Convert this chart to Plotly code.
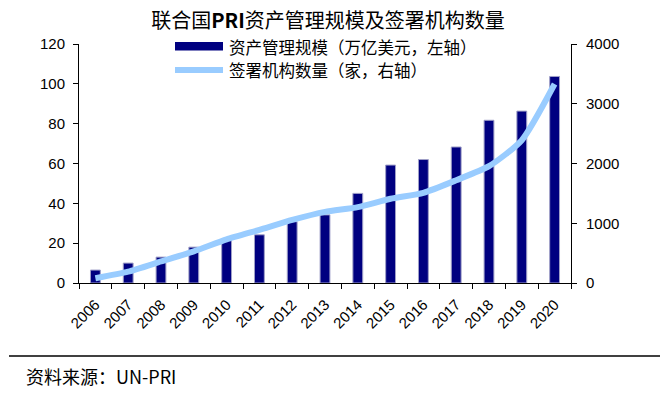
import plotly.graph_objects as go

years = ["2006", "2007", "2008", "2009", "2010", "2011", "2012", "2013",
         "2014", "2015", "2016", "2017", "2018", "2019", "2020"]
aum = [6.5, 10, 13, 18, 21.3, 24.2, 30.8, 34.2, 45, 59.2, 62, 68.3, 81.7, 86.3, 103.7]
signatories = [80, 190, 360, 530, 730, 890, 1055, 1190, 1270, 1410, 1510, 1720, 1955, 2390, 3330]
left_ticks = [0, 20, 40, 60, 80, 100, 120]
right_ticks = [0, 1000, 2000, 3000, 4000]
title_text = "联合国<b>PRI</b>资产管理规模及签署机构数量"
legend_names = ["资产管理规模（万亿美元，左轴）", "签署机构数量（家，右轴）"]
source_text = "资料来源：UN-PRI"

BAR = "#000080"
LINE = "#99CCFF"
TICKFONT = dict(family="Liberation Sans, Arial", size=15, color="#000000")
CJK = "Noto Sans CJK SC"

fig = go.Figure()
fig.add_trace(go.Bar(x=years, y=aum, name=legend_names[0], width=0.3,
                     marker=dict(color=BAR, line=dict(color="#A0A0C8", width=1)),
                     yaxis="y", showlegend=False))
fig.add_trace(go.Scatter(x=years, y=signatories, name=legend_names[1], mode="lines",
                         line=dict(color=LINE, width=6, shape="spline", smoothing=0.6),
                         yaxis="y2", showlegend=False))

W, H = 669, 396
L, R, T, B = 79, 571, 44, 283

def px_x(p):
    return (p - L) / (R - L)

def px_y(p):
    return (B - p) / (B - T)

shapes = [
    # legend samples
    dict(type="rect", xref="paper", yref="paper", x0=px_x(175), x1=px_x(223),
         y0=px_y(50.5), y1=px_y(42), fillcolor=BAR, line=dict(width=0)),
    dict(type="line", xref="paper", yref="paper", x0=px_x(175), x1=px_x(223),
         y0=px_y(70), y1=px_y(70), line=dict(color=LINE, width=6)),
    # bottom rule
    dict(type="line", xref="paper", yref="paper", x0=px_x(9), x1=px_x(660),
         y0=px_y(356), y1=px_y(356), line=dict(color="#000000", width=1.3)),
]
annotations = [
    dict(text=legend_names[0], xref="paper", yref="paper", x=px_x(227), y=px_y(47),
         xanchor="left", yanchor="middle", showarrow=False,
         font=dict(family=CJK, size=16.5, color="#000000")),
    dict(text=legend_names[1], xref="paper", yref="paper", x=px_x(227), y=px_y(70),
         xanchor="left", yanchor="middle", showarrow=False,
         font=dict(family=CJK, size=16.5, color="#000000")),
    dict(text=source_text, xref="paper", yref="paper", x=px_x(24), y=px_y(376),
         xanchor="left", yanchor="middle", showarrow=False,
         font=dict(family=CJK + ", Liberation Sans", size=18, color="#000000")),
]

fig.update_layout(
    width=W, height=H,
    margin=dict(l=L, r=W - R, t=T, b=H - B, pad=0),
    paper_bgcolor="white", plot_bgcolor="white",
    title=dict(text=title_text, x=328 / W, xanchor="center", y=1 - 21 / H, yanchor="middle",
               font=dict(family=CJK, size=20, color="#000000")),
    showlegend=False,
    xaxis=dict(type="category", showline=True, linecolor="#000000", linewidth=1,
               ticks="outside", tickson="boundaries", ticklen=5, tickcolor="#000000",
               tickangle=-45, ticklabelstandoff=6,
               tickfont=dict(family="Liberation Sans, Arial", size=15, color="#000000"),
               showgrid=False, zeroline=False, range=[-0.5, 14.5]),
    yaxis=dict(range=[0, 120], tickvals=left_ticks, showline=True, linecolor="#000000",
               linewidth=1, ticks="outside", ticklen=5, tickcolor="#000000",
               ticklabelstandoff=5, tickfont=TICKFONT, showgrid=False, zeroline=False),
    yaxis2=dict(range=[0, 4000], tickvals=right_ticks, overlaying="y", side="right",
                showline=True, linecolor="#000000", linewidth=1, ticks="outside",
                ticklen=5, tickcolor="#000000", ticklabelstandoff=6, tickfont=TICKFONT,
                showgrid=False, zeroline=False),
    shapes=shapes,
    annotations=annotations,
)

fig.write_html("out.html", config={"displayModeBar": False},
               post_script="document.body.style.margin='0';")
